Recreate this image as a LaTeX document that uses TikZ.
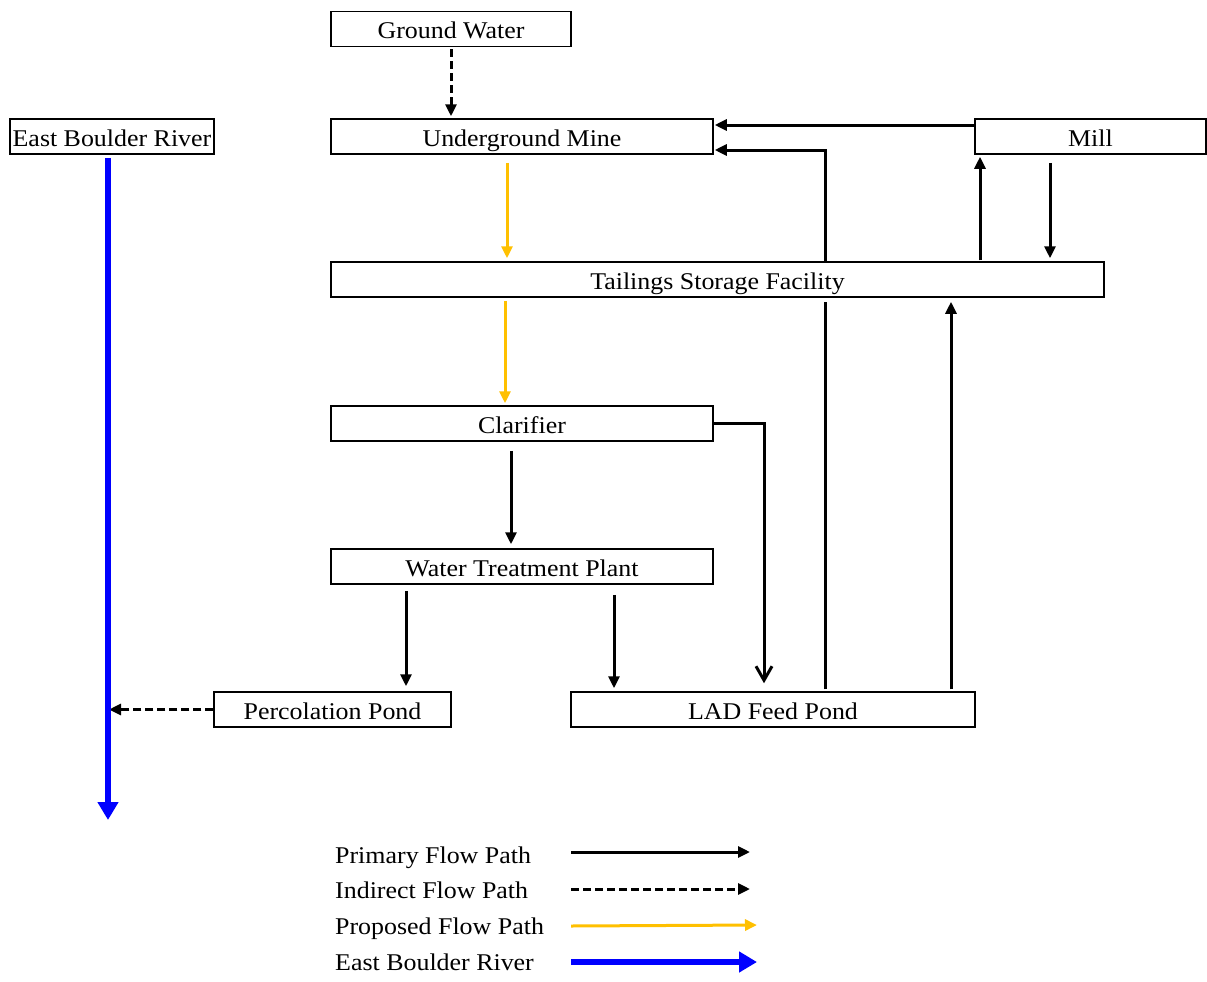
\documentclass[tikz,border=0pt]{standalone}
\usepackage{fontspec}
\setmainfont[FakeStretch=1.08]{Liberation Serif}
\usetikzlibrary{arrows.meta}
\definecolor{gold}{HTML}{FFC000}
\definecolor{riverblue}{HTML}{0000FF}
\begin{document}
\begin{tikzpicture}[x=1pt,y=-1pt,
  box/.style={draw, line width=1.5pt, rectangle, inner sep=0pt, minimum height=35pt, text height=21pt, text depth=1pt, font=\fontsize{24}{28}\selectfont},
  lbl/.style={anchor=west, inner sep=0pt, text height=21pt, text depth=1pt, font=\fontsize{24}{28}\selectfont},
  prim/.style={line width=3pt, -{Triangle[length=12pt,width=11pt]}},
  ind/.style={line width=3pt, dash pattern=on 8pt off 4pt, -{Triangle[length=12pt,width=11pt]}},
  prop/.style={line width=3pt, draw=gold, -{Triangle[length=12pt,width=11pt]}, gold},
  riv/.style={line width=6pt, draw=riverblue, riverblue, -{Triangle[length=18pt,width=20pt]}},
  openarr/.style={line width=3pt, -{Straight Barb[length=14pt,width=16pt]}}
]
\useasboundingbox (0,0) rectangle (1207,982);
% boxes
\node[box, minimum width=240pt] (gw) at (451,29) {Ground Water};
\node[box, minimum width=382pt] (um) at (522,136.5) {Underground Mine};
\node[box, minimum width=204pt] (ebr) at (112,136.5) {East Boulder River};
\node[box, minimum width=231pt] (mill) at (1090.5,136.5) {Mill};
\node[box, minimum width=773pt] (tsf) at (717.5,279.5) {Tailings Storage Facility};
\node[box, minimum width=382pt] (cl) at (522,423.5) {Clarifier};
\node[box, minimum width=382pt] (wtp) at (522,566.5) {Water Treatment Plant};
\node[box, minimum width=237pt] (pp) at (332.5,709.5) {Percolation Pond};
\node[box, minimum width=404pt] (lad) at (773,709.5) {LAD Feed Pond};
% x guide coordinates
\coordinate (x108) at (108,0);
\coordinate (x406) at (406,0);
\coordinate (x451) at (451,0);
\coordinate (x505) at (505,0);
\coordinate (x507) at (507,0);
\coordinate (x511) at (511,0);
\coordinate (x614) at (614,0);
\coordinate (x764) at (764,0);
\coordinate (x825) at (825.5,0);
\coordinate (x951) at (951,0);
\coordinate (x980) at (980,0);
\coordinate (x1050) at (1050,0);
\coordinate (rend) at (108,820);
% connectors
\draw[ind, shorten <=2pt, shorten >=2pt] (gw.south -| x451) -- (um.north -| x451);
\draw[prim, shorten >=1pt] ([yshift=11.5pt]mill.west) -- ([yshift=11.5pt]um.east);
\draw[prim, shorten >=1pt] (tsf.north -| x825) |- ([yshift=-13.5pt]um.east);
\draw[prim, shorten <=1pt, shorten >=2pt] (tsf.north -| x980) -- (mill.south -| x980);
\draw[prim, shorten <=8pt, shorten >=3pt] (mill.south -| x1050) -- (tsf.north -| x1050);
\draw[prop, shorten <=8pt, shorten >=3pt] (um.south -| x507) -- (tsf.north -| x507);
\draw[prop, shorten <=3pt, shorten >=2pt] (tsf.south -| x505) -- (cl.north -| x505);
\draw[prim, shorten <=9pt, shorten >=4pt] (cl.south -| x511) -- (wtp.north -| x511);
\draw[openarr, shorten >=8pt] (cl.east) -| (lad.north -| x764);
\draw[prim, shorten <=6pt, shorten >=5pt] (wtp.south -| x406) -- (pp.north -| x406);
\draw[prim, shorten <=10pt, shorten >=3pt] (wtp.south -| x614) -- (lad.north -| x614);
\draw[line width=3pt, shorten <=2pt, shorten >=4pt] (lad.north -| x825) -- (tsf.south -| x825);
\draw[prim, shorten <=2pt, shorten >=4pt] (lad.north -| x951) -- (tsf.south -| x951);
\draw[ind, shorten >=1pt] (pp.west) -- (pp.west -| x108);
\draw[riv, shorten <=3pt] (ebr.south -| x108) -- (rend);
% legend
\node[lbl] (l1) at (335,853) {Primary Flow Path};
\node[lbl] (l2) at (335,888) {Indirect Flow Path};
\node[lbl] (l3) at (335,924) {Proposed Flow Path};
\node[lbl] (l4) at (335,960) {East Boulder River};
\coordinate (a1) at (571,852); \coordinate (b1) at (750,852);
\coordinate (a2) at (571,889); \coordinate (b2) at (750,889);
\coordinate (a3) at (571,926); \coordinate (b3) at (757,925);
\coordinate (a4) at (571,962); \coordinate (b4) at (757,962);
\draw[prim] (a1) -- (b1);
\draw[ind] (a2) -- (b2);
\draw[prop] (a3) -- (b3);
\draw[riv] (a4) -- (b4);
\end{tikzpicture}
\end{document}
